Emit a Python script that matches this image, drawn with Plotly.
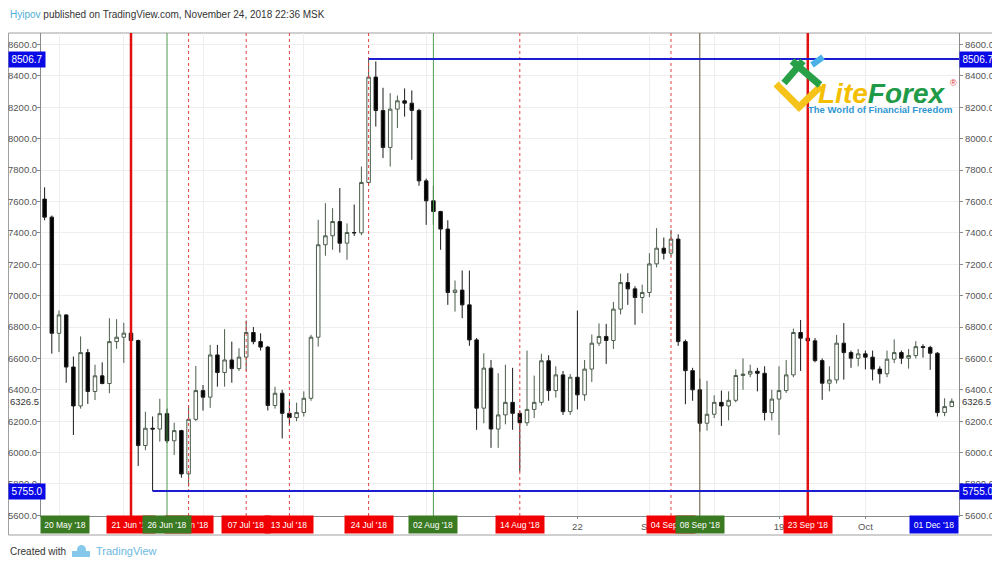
import pandas as pd
import plotly.graph_objects as go

# daily candles, 09 Jun 2018 .. 13 Oct 2018
START_DATE = "2018-06-09"
opens = [
    7615, 7500, 6760, 6877, 6545, 6297, 6637, 6389, 6489, 6440, 6707, 6735, 6761, 6714, 6045, 6155,
    6150, 6248, 6075, 6140, 5864, 6212, 6395, 6353, 6622, 6510, 6590, 6535, 6608, 6765, 6707, 6672,
    6300, 6378, 6250, 6223, 6255, 6346, 6735, 7324, 7381, 7472, 7334, 7402, 7400, 7721, 8392, 8179,
    7944, 8188, 8241, 8226, 8180, 7731, 7604, 7536, 7424, 7020, 7035, 6941, 6718, 6283, 6538, 6150,
    6240, 6320, 6250, 6190, 6275, 6320, 6585, 6395, 6495, 6261, 6480, 6368, 6532, 6697, 6740, 6714,
    6914, 7083, 7043, 6988, 7020, 7202, 7302, 7270, 7360, 6707, 6522, 6400, 6187, 6244, 6320, 6297,
    6333, 6491, 6500, 6518, 6505, 6255, 6341, 6395, 6495, 6765, 6729, 6712, 6586, 6442, 6463, 6697,
    6637, 6601, 6629, 6608, 6532, 6502, 6595, 6637, 6601, 6618, 6675, 6670, 6633, 6255, 6293,
]
highs = [
    7690, 7510, 6905, 6880, 6612, 6740, 6660, 6560, 6575, 6856, 6850, 6826, 6790, 6720, 6260, 6230,
    6343, 6280, 6190, 6145, 6297, 6552, 6430, 6686, 6686, 6786, 6707, 6665, 6841, 6800, 6760, 6680,
    6420, 6400, 6330, 6318, 6390, 6750, 7483, 7589, 7557, 7685, 7460, 7580, 7822, 8507, 8492, 8324,
    8290, 8275, 8320, 8307, 8190, 7745, 7700, 7540, 7480, 7096, 7160, 7160, 6730, 6633, 6590, 6506,
    6560, 6540, 6270, 6650, 6490, 6630, 6620, 6550, 6520, 6500, 6905, 6590, 6752, 6823, 6820, 6960,
    7140, 7143, 7060, 7070, 7270, 7430, 7370, 7420, 7390, 6720, 6540, 6470, 6458, 6365, 6395, 6390,
    6530, 6600, 6560, 6540, 6550, 6400, 6550, 6590, 6790, 6845, 6745, 6730, 6600, 6550, 6750, 6825,
    6650, 6660, 6650, 6650, 6550, 6650, 6721, 6650, 6660, 6710, 6690, 6680, 6640, 6346, 6345,
]
lows = [
    7480, 6630, 6640, 6445, 6112, 6280, 6310, 6335, 6435, 6378, 6661, 6571, 6700, 5915, 6015, 5755,
    6070, 6060, 5985, 5840, 5783, 6200, 6268, 6285, 6420, 6420, 6445, 6520, 6520, 6690, 6650, 6268,
    6280, 6090, 6180, 6200, 6230, 6330, 6675, 7254, 7292, 7274, 7228, 7380, 7385, 7700, 8077, 7876,
    7822, 8067, 8140, 7865, 7700, 7451, 7451, 7292, 6941, 6898, 6856, 6680, 6145, 6187, 6030, 6030,
    6180, 6145, 5880, 6170, 6220, 6300, 6330, 6350, 6240, 6240, 6275, 6330, 6450, 6680, 6565, 6660,
    6880, 6941, 6814, 6888, 6990, 7180, 7230, 7250, 6680, 6308, 6330, 6134, 6140, 6220, 6170, 6205,
    6320, 6400, 6480, 6390, 6205, 6205, 6112, 6380, 6480, 6520, 6680, 6575, 6336, 6390, 6440, 6465,
    6540, 6550, 6530, 6460, 6440, 6480, 6570, 6565, 6535, 6600, 6605, 6527, 6230, 6232, 6290,
]
closes = [
    7500, 6760, 6877, 6545, 6297, 6637, 6389, 6489, 6440, 6707, 6735, 6761, 6714, 6045, 6155, 6150,
    6248, 6075, 6140, 5864, 6212, 6395, 6353, 6622, 6510, 6590, 6535, 6608, 6765, 6707, 6672, 6300,
    6378, 6250, 6223, 6255, 6346, 6735, 7324, 7381, 7472, 7334, 7402, 7400, 7721, 8392, 8179, 7944,
    8188, 8241, 8226, 8180, 7731, 7604, 7536, 7424, 7020, 7035, 6941, 6718, 6283, 6538, 6150, 6240,
    6320, 6250, 6190, 6275, 6320, 6585, 6395, 6495, 6261, 6480, 6368, 6532, 6697, 6740, 6714, 6914,
    7083, 7043, 6988, 7020, 7202, 7302, 7270, 7360, 6707, 6522, 6400, 6187, 6244, 6320, 6297, 6333,
    6491, 6500, 6518, 6505, 6255, 6341, 6395, 6495, 6765, 6729, 6712, 6586, 6442, 6463, 6697, 6637,
    6601, 6629, 6608, 6532, 6502, 6595, 6637, 6601, 6618, 6675, 6670, 6633, 6255, 6293, 6326.5,
]
dates = pd.date_range(START_DATE, periods=len(closes), freq="D")

X_RANGE = ["2018-06-08 12:00", "2018-10-14 00:00"]
Y_RANGE = [5596, 8673]

TICK_DATES = ["2018-06-11", "2018-06-20", "2018-07-01", "2018-07-15", "2018-08-01",
              "2018-08-22", "2018-09-01", "2018-09-10", "2018-09-19", "2018-10-01"]
TICK_TEXT = ["11", "20", "Jul", "15", "Aug", "22", "Sep", "10", "19", "Oct"]

# drawn levels
HIGH_LEVEL, HIGH_FROM = 8506.7, "2018-07-24"
LOW_LEVEL, LOW_FROM = 5755.0, "2018-06-24"
LAST_PRICE = 6326.5

# vertical marker lines: date, style
VLINE_DATES = ["2018-06-21", "2018-06-26", "2018-06-29", "2018-07-07", "2018-07-13", "2018-07-24",
               "2018-08-02", "2018-08-14", "2018-09-04", "2018-09-08", "2018-09-23"]
VLINE_KIND = ["thick", "green", "dot", "dot", "dot", "dot", "green", "dot", "dot", "olive", "thick"]

# date flags under the axis (drawn in this order, later ones on top)
FLAG_DATES = ["2018-06-21", "2018-06-29", "2018-07-07", "2018-07-13", "2018-07-24", "2018-08-14",
              "2018-09-04", "2018-09-23", "2018-06-11 20:00", "2018-06-26", "2018-08-02",
              "2018-09-08", "2018-10-10 12:00"]
FLAG_TEXT = ["21 Jun '18", "29 Jun '18", "07 Jul '18", "13 Jul '18", "24 Jul '18", "14 Aug '18",
             "04 Sep '18", "23 Sep '18", "20 May '18", "26 Jun '18", "02 Aug '18",
             "08 Sep '18", "01 Dec '18"]
FLAG_KIND = ["red"] * 8 + ["green"] * 4 + ["blue"]

RED = "#f00000"
GREEN = "#3a7a22"
BLUE = "#0a0ae6"
LINE_STYLE = {
    "thick": dict(color="#e01010", width=2.5),
    "green": dict(color="#4f9a4f", width=1),
    "dot": dict(color="#e04040", width=1, dash="dot"),
    "olive": dict(color="#5e5238", width=1),
}
FLAG_COLOR = {"red": RED, "green": GREEN, "blue": BLUE}
FONT = "Liberation Sans, Arial, sans-serif"

# the page sits 8px in from the window corner, so the figure is 8px smaller
# and every position below is given in window pixels: plot box x 41..959, y 33..516
def px(x):
    return (x - 41) / 918


def py(y):
    return (516 - y) / 483


def note(x, y, text, size, color="#333", anchor="left", **kw):
    return dict(x=px(x), xref="paper", y=py(y), yref="paper", xanchor=anchor, yanchor="middle",
                showarrow=False, text=text, font=dict(family=FONT, size=size, color=color), **kw)


fig = go.Figure()
fig.add_trace(go.Candlestick(
    x=dates, open=opens, high=highs, low=lows, close=closes,
    increasing=dict(fillcolor="#ffffff", line=dict(color="#4a5d4a", width=1)),
    decreasing=dict(fillcolor="#000000", line=dict(color="#1a1a1a", width=1)),
    whiskerwidth=0, hoverinfo="skip", showlegend=False,
))
# anchor for the right price scale
fig.add_trace(go.Scatter(x=[dates[-1]], y=[closes[-1]], mode="lines", yaxis="y2",
                         showlegend=False, hoverinfo="skip", line=dict(width=0)))

shapes = []
# outer frame
shapes.append(dict(type="rect", xref="paper", yref="paper", x0=px(8.5), x1=px(995), y0=py(535), y1=py(33),
                   line=dict(color="#a0a0a0", width=1), layer="below"))

for d, kind in zip(VLINE_DATES, VLINE_KIND):
    shapes.append(dict(type="line", xref="x", yref="paper", x0=d, x1=d, y0=0, y1=1,
                       line=LINE_STYLE[kind], layer="above"))

for level, start in [(HIGH_LEVEL, HIGH_FROM), (LOW_LEVEL, LOW_FROM)]:
    shapes.append(dict(type="line", xref="x", yref="y", x0=start, x1=X_RANGE[1], y0=level, y1=level,
                       line=dict(color="#1c1cd0", width=2), layer="above"))

# LiteForex mark
shapes.append(dict(type="path", xref="paper", yref="paper",
                   path=f"M {px(776)} {py(84)} L {px(799)} {py(107)} L {px(821)} {py(86)}",
                   line=dict(color="#f5c31a", width=7)))
shapes.append(dict(type="line", xref="paper", yref="paper", x0=px(784), y0=py(83), x1=px(803), y1=py(61),
                   line=dict(color="#28a048", width=7)))
shapes.append(dict(type="line", xref="paper", yref="paper", x0=px(792), y0=py(61), x1=px(820), y1=py(85),
                   line=dict(color="#28a048", width=7)))
shapes.append(dict(type="line", xref="paper", yref="paper", x0=px(812), y0=py(65), x1=px(823), y1=py(57),
                   line=dict(color="#4ab0e8", width=6)))

# TradingView cloud in footer
cloud = "#86c8ea"
shapes.append(dict(type="circle", xref="paper", yref="paper", x0=px(77), x1=px(86), y0=py(555), y1=py(545),
                   fillcolor=cloud, line=dict(width=0)))
shapes.append(dict(type="rect", xref="paper", yref="paper", x0=px(72), x1=px(90), y0=py(557), y1=py(551),
                   fillcolor=cloud, line=dict(width=0)))

annotations = []
for d, text, kind in zip(FLAG_DATES, FLAG_TEXT, FLAG_KIND):
    annotations.append(dict(x=d, xref="x", y=py(524.5), yref="paper", text=text, showarrow=False,
                            xanchor="center", yanchor="middle", bgcolor=FLAG_COLOR[kind],
                            width=46, height=15, font=dict(family=FONT, size=8.5, color="white")))

for level, text in [(HIGH_LEVEL, f"{HIGH_LEVEL:.1f}"), (LOW_LEVEL, f"{LOW_LEVEL:.1f}")]:
    for xpos in [px(8), 1]:
        annotations.append(dict(x=xpos, xref="paper", y=level, yref="y", text=text, showarrow=False,
                                xanchor="left", yanchor="middle", bgcolor=BLUE, width=34, height=13,
                                font=dict(family=FONT, size=10, color="white")))

for xpos in [px(9), px(961)]:
    annotations.append(dict(x=xpos, xref="paper", y=LAST_PRICE, yref="y", text=f"{LAST_PRICE:.1f}",
                            showarrow=False, xanchor="left", yanchor="middle", bgcolor="white",
                            borderpad=0, font=dict(family=FONT, size=9.5, color="#333")))

# header and footer
annotations.append(note(8, 15, "<span style='color:#4fb0d6'>Hyipov</span> published on TradingView.com, "
                               "November 24, 2018 22:36 MSK", 10))
annotations.append(note(8, 551, "Created with", 10))
annotations.append(note(94, 551, "TradingView", 11, color="#6cb8df"))

# LiteForex text
annotations.append(note(816, 93, "<b><i><span style='color:#f4bf00'>Lite</span>"
                                 "<span style='color:#1f9b48'>Forex</span></i></b>", 28))
annotations.append(note(953, 83, "®", 9, color="#e03030", anchor="center"))
annotations.append(note(880, 109, "<b>The World of Financial Freedom</b>", 9.5, color="#2e97d3",
                        anchor="center"))

axis_common = dict(
    showline=True, linecolor="#8a8a8a", linewidth=1, ticks="outside", tickcolor="#8a8a8a",
    tickfont=dict(family=FONT, size=9.5, color="#555"), zeroline=False, automargin=False,
)

fig.update_layout(
    width=992, height=557,
    margin=dict(l=33, r=41, t=25, b=49, autoexpand=False),
    paper_bgcolor="white", plot_bgcolor="white",
    showlegend=False,
    xaxis=dict(type="date", range=X_RANGE, rangeslider=dict(visible=False), ticklen=2,
               tickvals=TICK_DATES, ticktext=TICK_TEXT, showgrid=True, gridcolor="#eeeeee",
               **axis_common),
    yaxis=dict(range=Y_RANGE, tick0=0, dtick=200, tickformat=".1f", side="left", ticklen=3,
               ticklabelstandoff=-2, showgrid=True, gridcolor="#eeeeee", **axis_common),
    yaxis2=dict(range=Y_RANGE, tick0=0, dtick=200, tickformat=".1f", side="right", overlaying="y",
                ticklen=3, showgrid=False, **axis_common),
    shapes=shapes,
    annotations=annotations,
)

fig.write_html("out.html")
